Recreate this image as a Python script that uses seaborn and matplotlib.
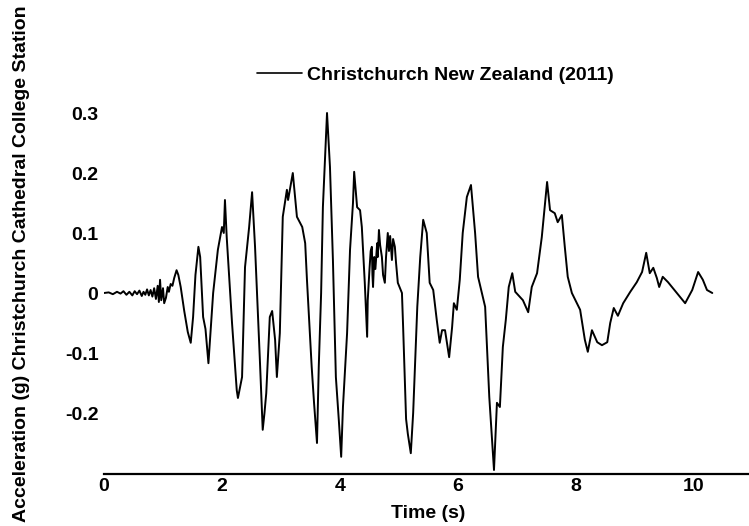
import matplotlib
matplotlib.use("Agg")
import matplotlib.pyplot as plt
import seaborn as sns
import pandas as pd

# ---- data ----
time_s = [0.00, 0.08, 0.15, 0.22, 0.28, 0.33, 0.38, 0.43, 0.48, 0.52, 0.56, 0.60,
          0.64, 0.67, 0.70, 0.73, 0.76, 0.79, 0.82, 0.85, 0.88, 0.91, 0.93, 0.95,
          0.97, 1.00, 1.02, 1.05, 1.08, 1.10, 1.13, 1.16, 1.19, 1.23, 1.26, 1.30,
          1.36, 1.42, 1.47, 1.51, 1.55, 1.60, 1.63, 1.68, 1.72, 1.77, 1.85, 1.93,
          2.00, 2.03, 2.05, 2.08, 2.17, 2.25, 2.27, 2.30, 2.34, 2.39, 2.46, 2.51,
          2.56, 2.64, 2.69, 2.72, 2.75, 2.81, 2.85, 2.90, 2.93, 2.98, 3.03, 3.10,
          3.12, 3.20, 3.27, 3.36, 3.41, 3.44, 3.47, 3.52, 3.56, 3.61, 3.64, 3.68,
          3.71, 3.78, 3.83, 3.88, 3.93, 3.98, 4.02, 4.05, 4.12, 4.17, 4.22, 4.24,
          4.29, 4.34, 4.37, 4.42, 4.46, 4.47, 4.50, 4.52, 4.54, 4.55, 4.56, 4.58,
          4.60, 4.63, 4.64, 4.66, 4.68, 4.71, 4.73, 4.76, 4.78, 4.81, 4.83, 4.85,
          4.88, 4.90, 4.93, 4.95, 4.98, 5.05, 5.07, 5.12, 5.15, 5.20, 5.24, 5.31,
          5.36, 5.41, 5.47, 5.52, 5.58, 5.64, 5.69, 5.73, 5.78, 5.85, 5.90, 5.93,
          5.98, 6.03, 6.08, 6.15, 6.22, 6.29, 6.34, 6.46, 6.53, 6.61, 6.66, 6.71,
          6.76, 6.81, 6.86, 6.92, 6.97, 7.10, 7.19, 7.25, 7.34, 7.42, 7.51, 7.56,
          7.64, 7.69, 7.76, 7.81, 7.86, 7.93, 8.07, 8.15, 8.20, 8.27, 8.36, 8.44,
          8.53, 8.58, 8.64, 8.71, 8.80, 8.92, 9.03, 9.12, 9.19, 9.25, 9.31, 9.37,
          9.41, 9.47, 9.56, 9.71, 9.85, 9.97, 10.07, 10.15, 10.22, 10.31]

accel_g = [0.000, 0.001, -0.002, 0.002, -0.001, 0.003, -0.003, 0.002, -0.004, 0.003, -0.002, 0.004,
           -0.005, 0.002, -0.003, 0.006, -0.004, 0.005, -0.006, 0.008, -0.010, 0.012, -0.015, 0.022,
           -0.012, 0.008, -0.017, -0.008, 0.010, 0.002, 0.015, 0.012, 0.025, 0.038, 0.030, 0.010,
           -0.030, -0.065, -0.083, -0.040, 0.030, 0.077, 0.060, -0.040, -0.060, -0.117, 0.000, 0.072,
           0.110, 0.100, 0.155, 0.093, -0.050, -0.162, -0.175, -0.160, -0.140, 0.043, 0.110, 0.168,
           0.077, -0.107, -0.228, -0.200, -0.167, -0.040, -0.030, -0.078, -0.140, -0.067, 0.127, 0.172,
           0.155, 0.200, 0.127, 0.110, 0.083, 0.022, -0.033, -0.123, -0.183, -0.250, -0.123, 0.000,
           0.143, 0.300, 0.210, 0.055, -0.140, -0.212, -0.273, -0.190, -0.067, 0.072, 0.150, 0.202,
           0.143, 0.138, 0.110, 0.017, -0.073, -0.012, 0.040, 0.070, 0.077, 0.030, 0.010, 0.060,
           0.040, 0.083, 0.060, 0.105, 0.080, 0.060, 0.030, 0.017, 0.060, 0.100, 0.070, 0.095,
           0.055, 0.090, 0.077, 0.050, 0.017, 0.000, -0.057, -0.210, -0.235, -0.267, -0.200, -0.023,
           0.060, 0.122, 0.100, 0.017, 0.005, -0.045, -0.083, -0.062, -0.062, -0.107, -0.057, -0.017,
           -0.028, 0.022, 0.100, 0.160, 0.180, 0.100, 0.027, -0.023, -0.173, -0.295, -0.183, -0.190,
           -0.090, -0.045, 0.010, 0.033, 0.002, -0.012, -0.032, 0.010, 0.033, 0.093, 0.185, 0.138,
           0.133, 0.118, 0.130, 0.077, 0.027, 0.000, -0.028, -0.078, -0.098, -0.062, -0.082, -0.087,
           -0.082, -0.050, -0.025, -0.038, -0.017, 0.002, 0.018, 0.035, 0.067, 0.033, 0.042, 0.025,
           0.010, 0.027, 0.018, 0.000, -0.017, 0.005, 0.035, 0.022, 0.005, 0.000]

x_ticks = [0, 2, 4, 6, 8, 10]
x_tick_labels = ["0", "2", "4", "6", "8", "10"]
y_ticks = [-0.2, -0.1, 0.0, 0.1, 0.2, 0.3]
y_tick_labels = ["-0.2", "-0.1", "0", "0.1", "0.2", "0.3"]
series_label = "Christchurch New Zealand (2011)"

df = pd.DataFrame({"Time (s)": time_s, "Acceleration": accel_g})

# ---- style ----
sns.set_theme(style="white")
plt.rcParams["font.family"] = ["Liberation Sans", "DejaVu Sans"]
plt.rcParams["font.weight"] = "bold"
plt.rcParams["axes.unicode_minus"] = False
plt.rcParams["text.color"] = "black"
plt.rcParams["axes.labelcolor"] = "black"

W, H = 749, 526
fig = plt.figure(figsize=(W / 100, H / 100), dpi=100)
ax = fig.add_axes([104 / W, 52.5 / H, 645 / W, (486 - 52.5) / H])

sns.lineplot(data=df, x="Time (s)", y="Acceleration", ax=ax, color="black",
             linewidth=1.4, estimator=None, sort=False, label=series_label)

ax.set_xlim(0, 645 / 59.0)
ax.set_ylim(-(473.5 - 293) / 600, (293 - 40) / 600)

ax.set_xticks(x_ticks)
ax.set_xticklabels(x_tick_labels, fontsize=14, fontweight="bold")
ax.set_yticks(y_ticks)
ax.set_yticklabels(y_tick_labels, fontsize=14, fontweight="bold")
ax.tick_params(axis="both", direction="in", length=4, width=1, color="#aaaaaa",
               labelcolor="black")
ax.tick_params(axis="x", pad=3)
ax.tick_params(axis="y", pad=4)

for s in ["top", "right", "left"]:
    ax.spines[s].set_visible(False)
ax.spines["bottom"].set_color("black")
ax.spines["bottom"].set_linewidth(1.6)

ax.set_xlabel("")
ax.set_ylabel("")
fig.text(428 / W, 1 - 513 / H, "Time (s)", ha="center", va="center",
         fontsize=14, fontweight="bold", color="black")
fig.text(22 / W, 4 / H, "Acceleration (g) Christchurch Cathedral College Station",
         rotation=90, ha="center", va="bottom", fontsize=14, fontweight="bold",
         color="black")

leg = ax.legend(loc="center left", bbox_to_anchor=(257 / W, 1 - 75 / H),
                bbox_transform=fig.transFigure, frameon=False, borderpad=0,
                borderaxespad=0, handlelength=2.3, handletextpad=0.25,
                prop={"size": 14, "weight": "bold"})
for text in leg.get_texts():
    text.set_color("black")
for line in leg.get_lines():
    line.set_linewidth(1.2)

fig.savefig("out.png", dpi=100)
